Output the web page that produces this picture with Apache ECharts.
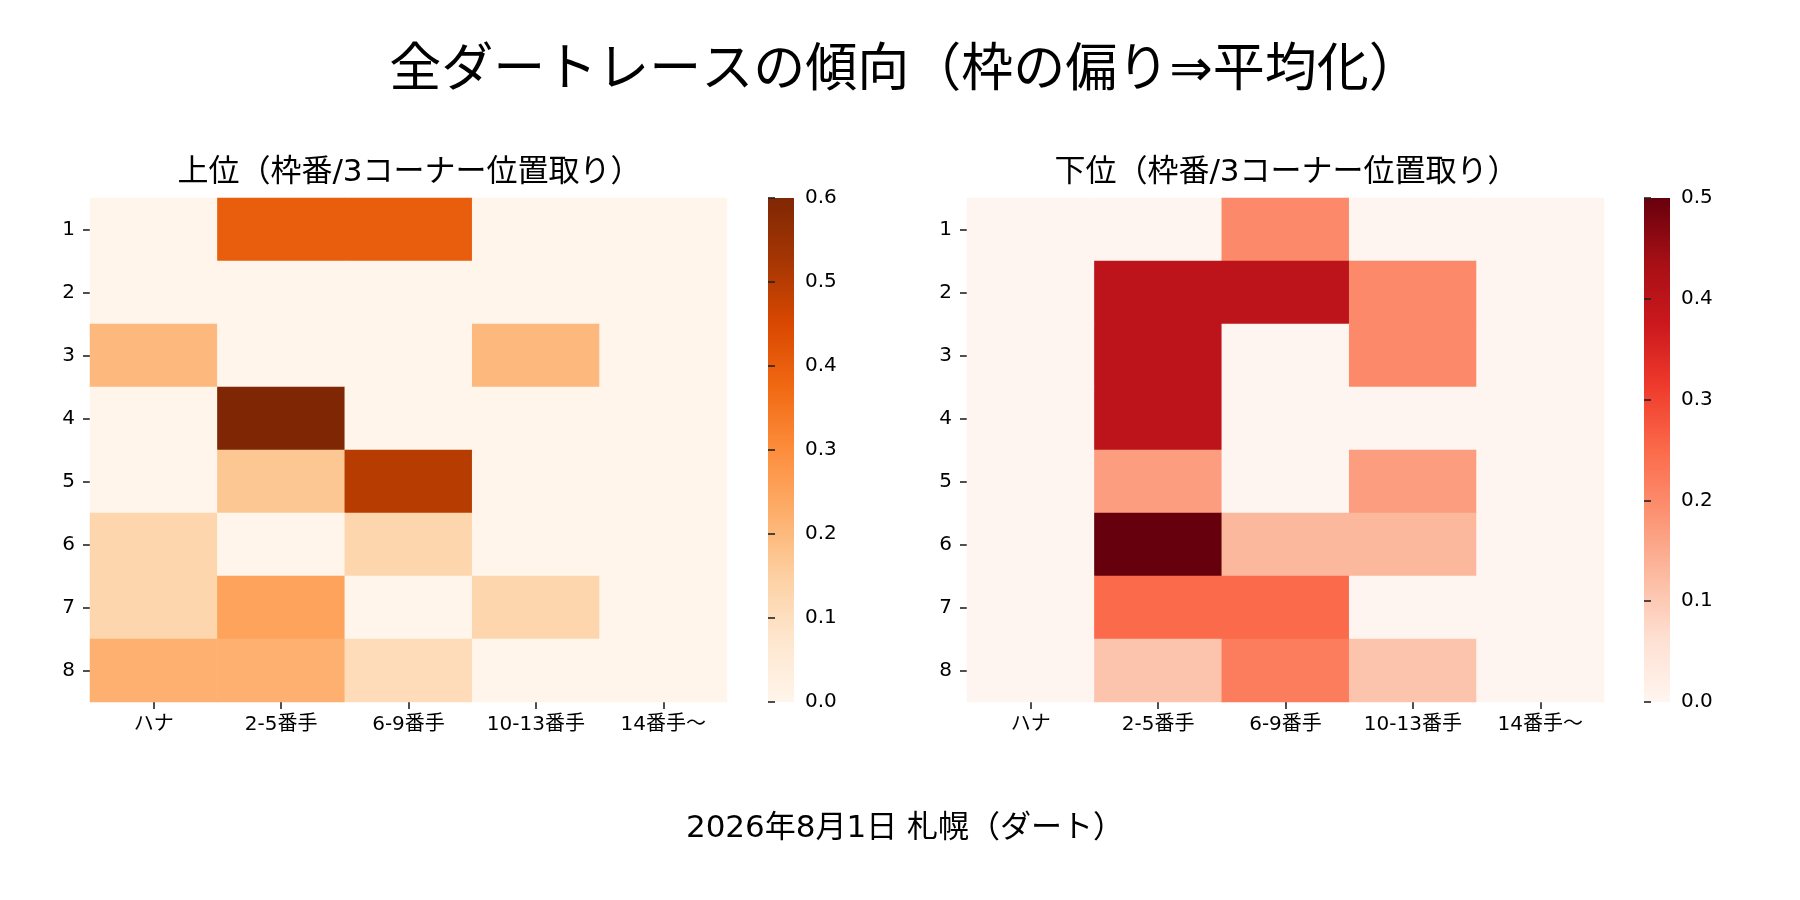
<!DOCTYPE html>
<html>
<head>
<meta charset="utf-8">
<script src="https://cdn.jsdelivr.net/npm/echarts@6/dist/echarts.min.js"></script>
<style>
    html, body { margin: 0; padding: 0; background: #fff; }
    #chart { width: 1800px; height: 900px; }
</style>
</head>
<body>
<div id="chart"></div>
<script>
//データ
var rowLabels = ['1', '2', '3', '4', '5', '6', '7', '8'];
var colLabels = ['ハナ', '2-5番手', '6-9番手', '10-13番手', '14番手〜'];
//上位（枠番ごとの位置取り割合）
var upperValues = [
    [0, 0.4, 0.4, 0, 0],
    [0, 0, 0, 0, 0],
    [0.2, 0, 0, 0.2, 0],
    [0, 0.6, 0, 0, 0],
    [0, 0.17, 0.5, 0, 0],
    [0.13, 0, 0.13, 0, 0],
    [0.13, 0.25, 0, 0.13, 0],
    [0.22, 0.22, 0.11, 0, 0]
];
//下位
var lowerValues = [
    [0, 0, 0.2, 0, 0],
    [0, 0.4, 0.4, 0.2, 0],
    [0, 0.4, 0, 0.2, 0],
    [0, 0.4, 0, 0, 0],
    [0, 0.17, 0, 0.17, 0],
    [0, 0.5, 0.13, 0.13, 0],
    [0, 0.25, 0.25, 0, 0],
    [0, 0.11, 0.22, 0.11, 0]
];
var upperMax = 0.6;
var lowerMax = 0.5;
var barTickStep = 0.1;

//カラーマップ（matplotlib Oranges / Reds）
var orangesColors = ['#fff5eb', '#fee6ce', '#fdd0a2', '#fdae6b', '#fd8d3c', '#f16913', '#d94801', '#a63603', '#7f2704'];
var redsColors = ['#fff5f0', '#fee0d2', '#fcbba1', '#fc9272', '#fb6a4a', '#ef3b2c', '#cb181d', '#a50f15', '#67000d'];

//英数字はDejaVu、和文はNotoで代替
var font = '"DejaVu Sans", "Noto Sans CJK JP", sans-serif';
var tickColor = '#222';
var tickFont = 20;

//[x, y, value] の形に変換
function toCells(values) {
    var cells = [];
    values.forEach(function (row, r) {
        row.forEach(function (v, c) {
            cells.push([c, r, v]);
        });
    });
    return cells;
}

//カラーバー用グラデーション（下が0）
function barGradient(colors) {
    var stops = colors.map(function (c, k) {
        return { offset: k / (colors.length - 1), color: c };
    });
    return new echarts.graphic.LinearGradient(0, 1, 0, 0, stops);
}

//パネル位置
var panels = [
    { left: 90, barLeft: 768, max: upperMax, colors: orangesColors, values: upperValues, title: '上位（枠番/3コーナー位置取り）' },
    { left: 967, barLeft: 1644, max: lowerMax, colors: redsColors, values: lowerValues, title: '下位（枠番/3コーナー位置取り）' }
];
var gridTop = 198, gridWidth = 637, gridHeight = 504, barWidth = 26;

var hiddenLine = { show: false };
var tickStyle = { show: true, alignWithLabel: true, interval: 0, length: 7, lineStyle: { color: tickColor, width: 1.6 } };

var grids = [], xAxes = [], yAxes = [], series = [], visualMaps = [], graphics = [];
var titles = [{
    text: '全ダートレースの傾向（枠の偏り⇒平均化）',
    left: 900, top: 41, textAlign: 'center',
    textStyle: { fontFamily: font, fontSize: 52, fontWeight: 'normal', color: '#000' }
}, {
    text: '2026年8月1日 札幌（ダート）',
    left: 900, top: 808, textAlign: 'center',
    textStyle: { fontFamily: font, fontSize: 31, fontWeight: 'normal', color: '#000' }
}];

panels.forEach(function (p, i) {
    //ヒートマップ
    grids.push({ left: p.left, top: gridTop, width: gridWidth, height: gridHeight });
    xAxes.push({
        type: 'category', gridIndex: i * 2, data: colLabels,
        axisLine: hiddenLine,
        axisTick: tickStyle,
        axisLabel: { interval: 0, hideOverlap: false, margin: 13, fontFamily: font, fontSize: tickFont, color: '#000' },
        splitLine: { show: false }
    });
    yAxes.push({
        type: 'category', gridIndex: i * 2, data: rowLabels, inverse: true,
        axisLine: hiddenLine,
        axisTick: tickStyle,
        axisLabel: { interval: 0, hideOverlap: false, margin: 15, fontFamily: font, fontSize: tickFont, color: '#000' },
        splitLine: { show: false }
    });
    series.push({
        type: 'heatmap', xAxisIndex: i * 2, yAxisIndex: i * 2,
        data: toCells(p.values),
        itemStyle: { borderWidth: 0 },
        emphasis: { disabled: true },
        silent: true
    });
    visualMaps.push({
        type: 'continuous', seriesIndex: i, min: 0, max: p.max,
        show: false,
        inRange: { color: p.colors }
    });
    //カラーバー本体
    graphics.push({
        type: 'rect', silent: true,
        shape: { x: p.barLeft, y: gridTop, width: barWidth, height: gridHeight },
        style: { fill: barGradient(p.colors) }
    });
    //カラーバーの目盛り
    grids.push({ left: p.barLeft, top: gridTop, width: barWidth, height: gridHeight });
    xAxes.push({ type: 'value', gridIndex: i * 2 + 1, show: false });
    yAxes.push({
        type: 'value', gridIndex: i * 2 + 1, position: 'right',
        min: 0, max: p.max, interval: barTickStep,
        axisLine: hiddenLine,
        axisTick: { show: true, length: 7, lineStyle: { color: tickColor, width: 1.6 } },
        axisLabel: {
            margin: 11, fontFamily: font, fontSize: tickFont, color: '#000',
            formatter: function (v) { return v.toFixed(1); }
        },
        splitLine: { show: false }
    });
    titles.push({
        text: p.title,
        left: p.left + gridWidth / 2 - 4, top: 152, textAlign: 'center',
        textStyle: { fontFamily: font, fontSize: 31, fontWeight: 'normal', color: '#000' }
    });
});

var chart = echarts.init(document.getElementById('chart'), null, { renderer: 'canvas' });
chart.setOption({
    backgroundColor: '#fff',
    animation: false,
    title: titles,
    grid: grids,
    xAxis: xAxes,
    yAxis: yAxes,
    visualMap: visualMaps,
    graphic: graphics,
    series: series
});
</script>
</body>
</html>
